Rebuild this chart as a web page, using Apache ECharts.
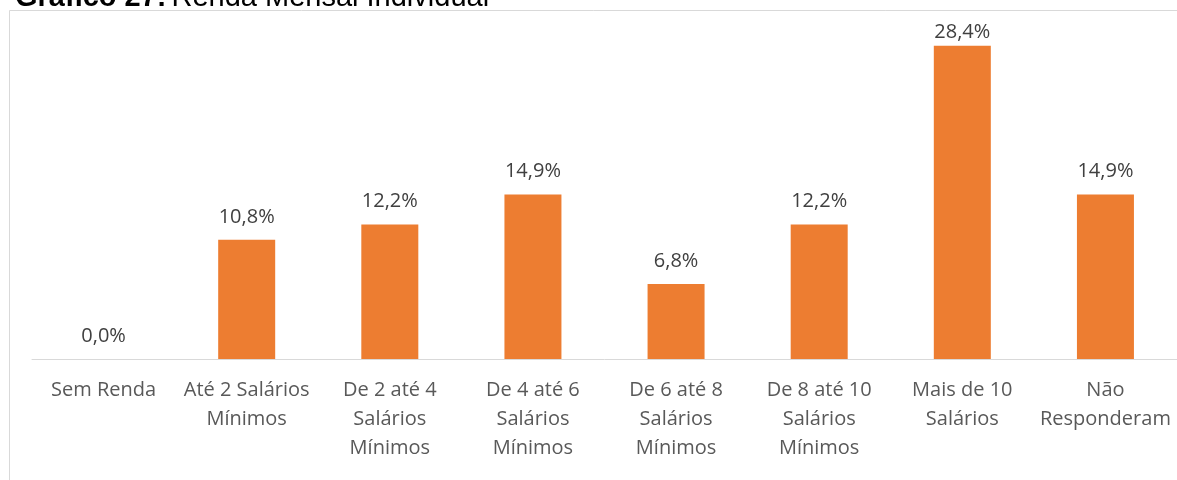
<!DOCTYPE html>
<html lang="pt">
<head>
    <meta charset="UTF-8">
    <title>Renda Mensal Individual</title>
    <script src="https://cdn.jsdelivr.net/npm/echarts@6/dist/echarts.min.js"></script>
    <style>
        html, body { margin: 0; padding: 0; background: #fff; }
        #main { width: 1177px; height: 480px; }
    </style>
</head>
<body>
<div id="main"></div>
<script>
    var categorias = ['Sem Renda', 'Até 2 Salários\nMínimos', 'De 2 até 4\nSalários\nMínimos', 'De 4 até 6\nSalários\nMínimos',
        'De 6 até 8\nSalários\nMínimos', 'De 8 até 10\nSalários\nMínimos', 'Mais de 10\nSalários', 'Não\nResponderam'];
    var percentuais = [0.0, 10.8, 12.2, 14.9, 6.8, 12.2, 28.4, 14.9];

    var chart = echarts.init(document.getElementById('main'));

    var maior = Math.max.apply(null, percentuais);
    // o rótulo da maior barra fica espremido no topo, como no original
    var dados = percentuais.map(function (v) {
        if (v === maior) return { value: v, label: { distance: 3 } };
        return v;
    });

    var fonte = '"Open Sans", "Noto Sans", sans-serif';

    chart.setOption({
        animation: false,
        backgroundColor: '#fff',
        title: {
            text: '{b|Gráfico 27:} {n|Renda Mensal Individual}',
            left: 10,
            top: -22,
            textStyle: {
                rich: {
                    b: { fontFamily: 'Liberation Sans, Arial', fontWeight: 'bold', fontSize: 29, color: '#000' },
                    n: { fontFamily: 'Liberation Sans, Arial', fontWeight: 'normal', fontSize: 29, color: '#000' }
                }
            }
        },
        graphic: [{
            type: 'polyline',
            silent: true,
            shape: { points: [[9.5, 480], [9.5, 10.5], [1177, 10.5]] },
            style: { stroke: '#d9d9d9', lineWidth: 1, fill: null }
        }],
        grid: { left: 32, right: 0, top: 28, bottom: 121 },
        xAxis: {
            type: 'category',
            data: categorias,
            axisLine: { lineStyle: { color: '#d9d9d9', width: 1 } },
            axisTick: { show: false },
            axisLabel: {
                interval: 0,
                color: '#595959',
                fontFamily: fonte,
                fontSize: 20,
                lineHeight: 29,
                margin: 17
            }
        },
        yAxis: {
            type: 'value',
            min: 0,
            max: 30,
            show: false,
            splitLine: { show: false }
        },
        series: [{
            type: 'bar',
            data: dados,
            barWidth: 57,
            itemStyle: { color: '#ED7D31' },
            label: {
                show: true,
                position: 'top',
                distance: 13,
                color: '#404040',
                fontFamily: fonte,
                fontSize: 20,
                formatter: function (p) {
                    return p.value.toFixed(1).replace('.', ',') + '%';
                }
            }
        }]
    });
</script>
</body>
</html>
